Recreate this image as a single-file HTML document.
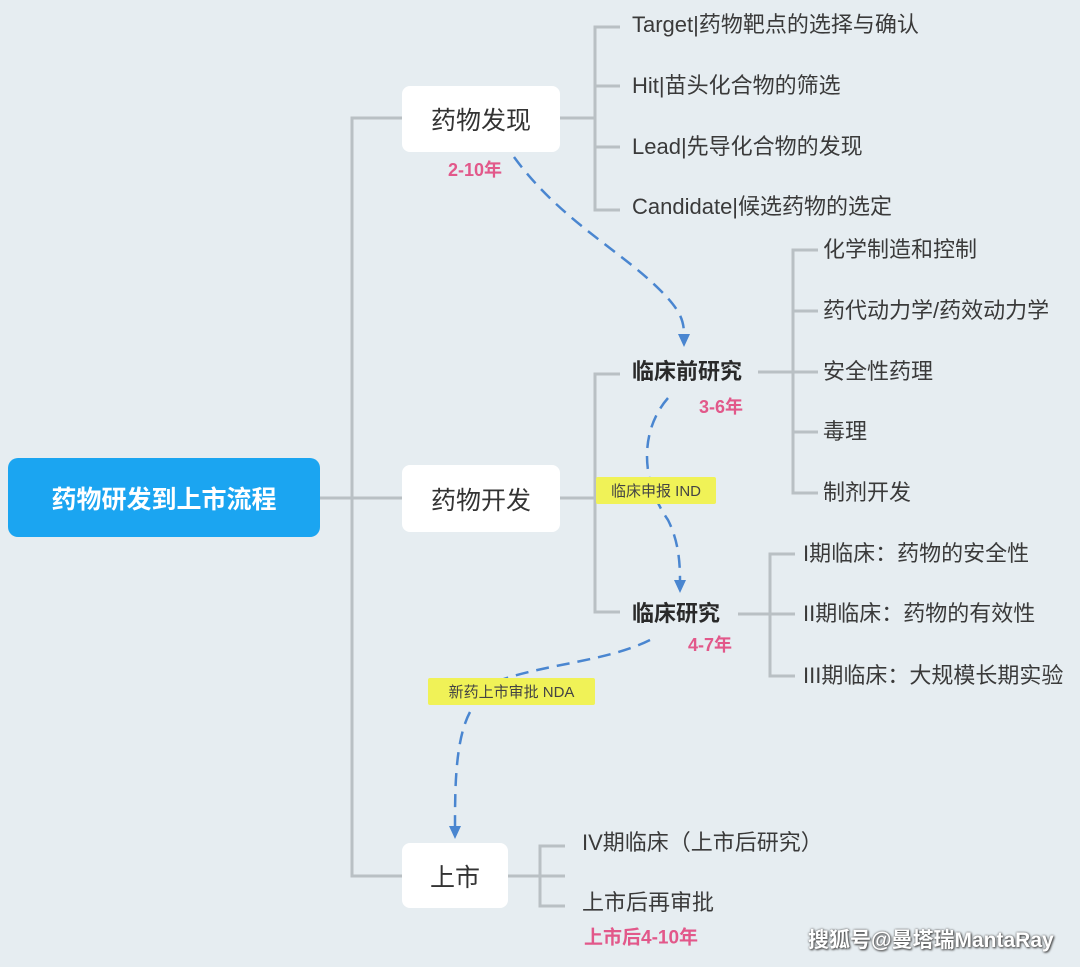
<!DOCTYPE html>
<html><head><meta charset="utf-8"><style>
body{margin:0;width:1080px;height:967px;background:#e6edf1;position:relative;overflow:hidden;font-family:"Liberation Sans","Noto Sans CJK SC",sans-serif;}
.t{position:absolute;white-space:nowrap;color:#3a3a3a;line-height:1;}
.n{font-size:22px;transform:translateY(-50%);}
.b{font-weight:bold;font-size:22px;color:#2a2a2a;transform:translateY(-50%);}
.p{font-weight:bold;font-size:18px;color:#e2588a;transform:translateY(-50%);}
.box{position:absolute;background:#fff;border-radius:8px;display:flex;align-items:center;justify-content:center;font-size:25px;color:#333;}
.hl{position:absolute;background:#f0f257;font-size:15px;color:#444;display:flex;align-items:center;justify-content:center;border-radius:2px;}
svg{position:absolute;left:0;top:0;}
</style></head><body>
<svg width="1080" height="967">
<g stroke="#b9c0c4" stroke-width="3" fill="none">
<path d="M320 498 H402"/>
<path d="M402 118 H352 V876 H402"/>
<path d="M560 118 H595"/>
<path d="M620 27 H595 V210 H620 M595 86 H620 M595 147 H620"/>
<path d="M560 498 H595"/>
<path d="M620 374 H595 V612 H620"/>
<path d="M758 372 H818"/>
<path d="M818 250 H793 V493 H818 M793 311 H818 M793 432 H818"/>
<path d="M738 614 H795"/>
<path d="M795 554 H770 V676 H795"/>
<path d="M508 876 H565"/>
<path d="M565 846 H540 V906 H565"/>
</g>
<g stroke="#4a86d0" stroke-width="2.5" fill="none" stroke-dasharray="13,8">
<path d="M514 157 C560 220 620 250 660 290 C680 310 684 320 684 335"/>
<path d="M668 398 C640 430 640 480 668 520 C678 540 680 560 680 580"/>
<path d="M650 640 C600 665 520 665 480 690"/>
<path d="M470 712 C455 740 455 790 455 828"/>
</g>
<g fill="#4a86d0">
<path d="M678 334 L690 334 L684 347Z"/>
<path d="M674 580 L686 580 L680 593Z"/>
<path d="M449 826 L461 826 L455 839Z"/>
</g>
</svg>
<div class="box" style="left:8px;top:458px;width:312px;height:79px;background:#1ba5f1;border-radius:10px;color:#fff;font-weight:bold;font-size:25px;">药物研发到上市流程</div>
<div class="box" style="left:402px;top:86px;width:158px;height:66px;">药物发现</div>
<div class="box" style="left:402px;top:465px;width:158px;height:67px;">药物开发</div>
<div class="box" style="left:402px;top:843px;width:106px;height:65px;">上市</div>
<div class="t p" style="left:448px;top:170px;">2-10年</div>
<div class="t n" style="left:632px;top:25px;">Target|药物靶点的选择与确认</div>
<div class="t n" style="left:632px;top:86px;">Hit|苗头化合物的筛选</div>
<div class="t n" style="left:632px;top:147px;">Lead|先导化合物的发现</div>
<div class="t n" style="left:632px;top:207px;">Candidate|候选药物的选定</div>
<div class="t b" style="left:632px;top:372px;">临床前研究</div>
<div class="t p" style="left:699px;top:407px;">3-6年</div>
<div class="t n" style="left:823px;top:250px;">化学制造和控制</div>
<div class="t n" style="left:823px;top:311px;">药代动力学/药效动力学</div>
<div class="t n" style="left:823px;top:372px;">安全性药理</div>
<div class="t n" style="left:823px;top:432px;">毒理</div>
<div class="t n" style="left:823px;top:493px;">制剂开发</div>
<div class="hl" style="left:596px;top:477px;width:120px;height:27px;">临床申报 IND</div>
<div class="t b" style="left:632px;top:614px;">临床研究</div>
<div class="t p" style="left:688px;top:645px;">4-7年</div>
<div class="t n" style="left:803px;top:554px;">I期临床：药物的安全性</div>
<div class="t n" style="left:803px;top:614px;">II期临床：药物的有效性</div>
<div class="t n" style="left:803px;top:676px;">III期临床：大规模长期实验</div>
<div class="hl" style="left:428px;top:678px;width:167px;height:27px;">新药上市审批 NDA</div>
<div class="t n" style="left:582px;top:843px;">IV期临床（上市后研究）</div>
<div class="t n" style="left:582px;top:903px;">上市后再审批</div>
<div class="t p" style="left:584px;top:938px;font-size:19px;">上市后4-10年</div>
<div class="t" style="left:808px;top:930px;font-size:21px;color:#fff;font-weight:bold;text-shadow:0 0 2px #555,1px 1px 2px #333;">搜狐号@曼塔瑞MantaRay</div>
</body></html>
